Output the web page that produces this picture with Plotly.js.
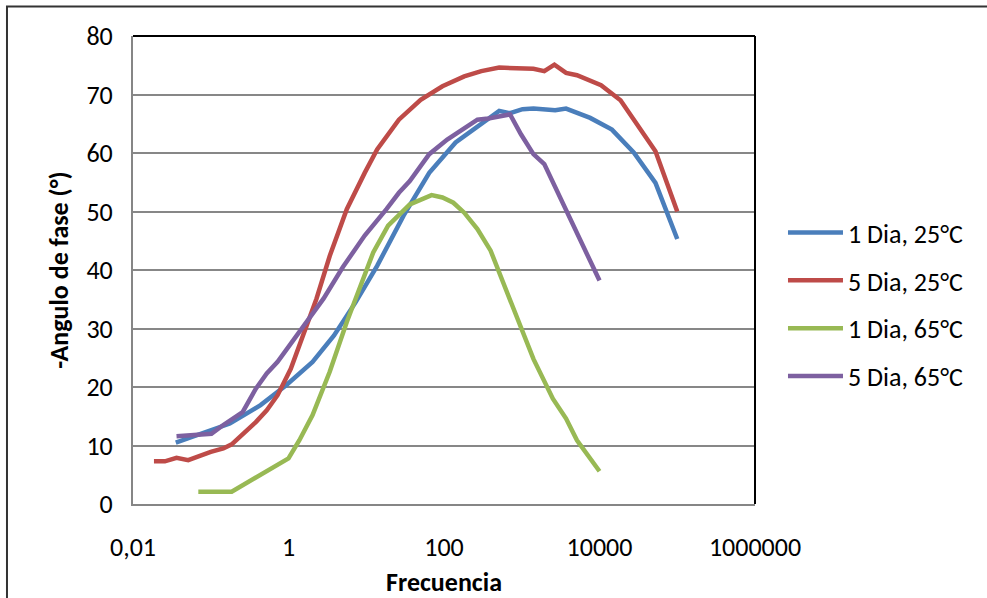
<!DOCTYPE html>
<html>
<head>
<meta charset="utf-8">
<script src="https://cdn.plot.ly/plotly-3.0.1.min.js"></script>
<style>
html,body{margin:0;padding:0;background:#fff;}
#chart{width:987px;height:598px;}
</style>
</head>
<body>
<div id="chart"></div>
<script>
// 1 Dia, 25°C
const freq1d25 = [0.0355, 0.176, 0.437, 0.933, 2.04, 3.85, 7.31, 13.8, 30.2, 64.6, 141, 269, 513, 708, 1023, 1413, 2692, 3715, 5129, 7586, 14450, 27540, 52480, 100000];
const phase1d25 = [10.5, 13.75, 16.9, 20.3, 24.3, 28.8, 34.5, 40.7, 49.3, 56.6, 61.8, 64.6, 67.2, 66.8, 67.5, 67.6, 67.3, 67.6, 66.8, 66.0, 64.0, 60.1, 54.9, 45.3];
// 5 Dia, 25°C
const freq5d25 = [0.0186, 0.0257, 0.0363, 0.0513, 0.1, 0.145, 0.186, 0.380, 0.525, 0.724, 1.07, 1.55, 2.29, 3.39, 5.62, 9.55, 13.8, 26.3, 50.1, 95.5, 182, 302, 513, 1413, 1950, 2630, 3715, 5129, 10470, 18620, 30900, 52480, 100000];
const phase5d25 = [7.3, 7.3, 7.9, 7.5, 8.9, 9.5, 10.2, 14.0, 16.0, 18.6, 23.1, 28.8, 35.1, 42.4, 50.4, 56.6, 60.6, 65.7, 69.1, 71.4, 73.1, 74.0, 74.6, 74.4, 74.0, 75.1, 73.7, 73.3, 71.6, 69.0, 64.6, 60.3, 50.0];
// 1 Dia, 65°C
const freq1d65 = [0.0692, 0.186, 1.0, 1.38, 2.04, 3.39, 5.62, 8.32, 12.3, 19.1, 36.3, 69.2, 95.5, 132, 182, 269, 398, 575, 912, 1413, 2512, 3715, 5129, 7586, 10000];
const phase1d65 = [2.1, 2.1, 7.8, 10.9, 15.2, 22.6, 31.1, 36.8, 43.0, 47.6, 51.2, 52.8, 52.4, 51.5, 49.8, 47.0, 43.3, 37.9, 31.4, 24.8, 18.0, 14.6, 10.9, 7.8, 5.6];
// 5 Dia, 65°C
const freq5d65 = [0.0363, 0.0813, 0.102, 0.145, 0.257, 0.380, 0.525, 0.724, 1.38, 2.82, 5.01, 9.55, 18.2, 26.3, 36.3, 64.6, 110, 182, 269, 372, 708, 977, 1413, 1950, 2692, 3715, 5129, 7586, 10000];
const phase5d65 = [11.6, 11.9, 12.0, 13.5, 15.7, 19.7, 22.3, 24.3, 29.4, 35.1, 40.5, 45.9, 50.4, 53.2, 55.2, 59.8, 62.3, 64.3, 65.7, 65.9, 66.6, 63.2, 59.8, 58.1, 54.1, 50.4, 46.4, 41.3, 38.2];

const seriesNames = ["1 Dia, 25°C", "5 Dia, 25°C", "1 Dia, 65°C", "5 Dia, 65°C"];
const seriesColors = ["#4A7EBB", "#BE4B48", "#98B954", "#7D60A0"];
const xTickVals = [0.01, 1, 100, 10000, 1000000];
const xTickText = ["0,01", "1", "100", "10000", "1000000"];
const yTickVals = [0, 10, 20, 30, 40, 50, 60, 70, 80];

const FONT = "Carlito, Lato, 'Liberation Sans', sans-serif";
const FS = 26;
const xs = [freq1d25, freq5d25, freq1d65, freq5d65];
const ys = [phase1d25, phase5d25, phase1d65, phase5d65];

const traces = xs.map((x, i) => ({
  x: x, y: ys[i], type: "scatter", mode: "lines",
  name: seriesNames[i], legendgroup: "g" + i,
  line: {color: seriesColors[i], width: 4.5, shape: "linear"},
  hoverinfo: "x+y+name"
}));

const layout = {
  width: 987, height: 598,
  margin: {l: 133, r: 232, t: 36, b: 93.5, pad: 0},
  paper_bgcolor: "#ffffff", plot_bgcolor: "#ffffff",
  font: {family: FONT, size: FS, color: "#000"},
  showlegend: true,
  legend: {x: 1.045, xanchor: "left", y: 0.63, yanchor: "top",
           font: {family: FONT, size: FS, color: "#000"},
           itemwidth: 55,
           tracegroupgap: 11, bgcolor: "rgba(0,0,0,0)", borderwidth: 0},
  xaxis: {type: "log", range: [-2, 6], tickvals: xTickVals, ticktext: xTickText,
          showgrid: false, zeroline: false, showline: true, linecolor: "#868686", linewidth: 2,
          ticks: "", ticklabelstandoff: 19,
          tickfont: {family: FONT, size: FS, color: "#000"},
          title: {text: "<b>Frecuencia</b>", font: {family: FONT, size: FS, color: "#000"}, standoff: 12}},
  yaxis: {range: [0, 80], tickvals: yTickVals, showgrid: true, gridcolor: "#878787", gridwidth: 2,
          zeroline: false, showline: true, linecolor: "#868686", linewidth: 2,
          ticks: "", ticklabelstandoff: 13,
          tickfont: {family: FONT, size: FS, color: "#000"},
          title: {text: "<b>-Angulo de fase (°)</b>", font: {family: FONT, size: FS, color: "#000"}, standoff: 10}},
  shapes: [
    {type: "line", xref: "paper", yref: "paper", x0: 0, x1: 1, y0: 1, y1: 1, line: {color: "#000", width: 2}},
    {type: "line", xref: "paper", yref: "paper", x0: 1, x1: 1, y0: 0, y1: 1, line: {color: "#000", width: 2}},
    {type: "rect", xref: "paper", yref: "paper", x0: -0.2026, x1: 1.45, y0: -0.3, y1: 1.063,
     line: {color: "#333", width: 2}, layer: "below"}
  ]
};

Plotly.newPlot("chart", traces, layout, {displayModeBar: false, staticPlot: true});
</script>
</body>
</html>
